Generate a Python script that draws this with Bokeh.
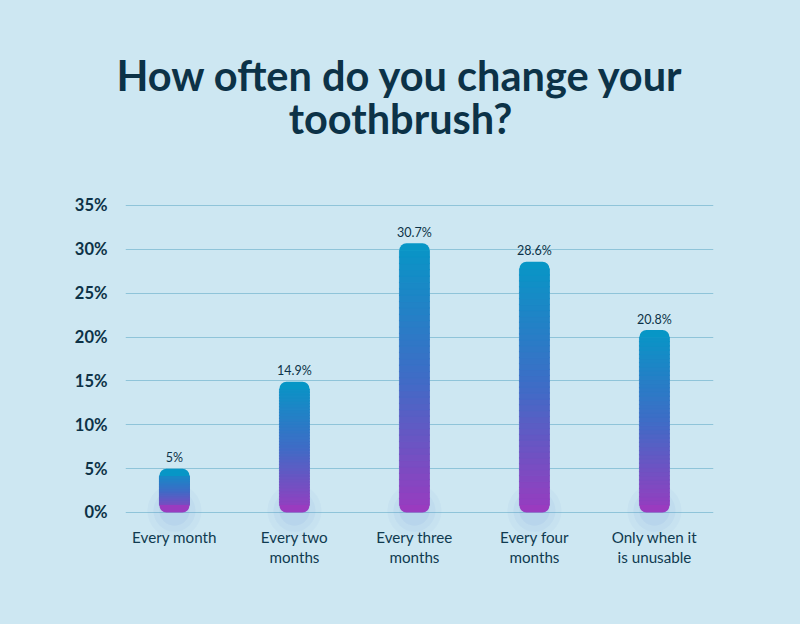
import numpy as np
from bokeh.plotting import figure
from bokeh.layouts import column
from bokeh.models import Range1d, FixedTicker, PrintfTickFormatter, ColumnDataSource
from bokeh.core.properties import value
from bokeh.embed import file_html
from bokeh.resources import INLINE

# ---- data ----
categories = ["Every month", "Every two\nmonths", "Every three\nmonths",
              "Every four\nmonths", "Only when it\nis unusable"]
values = [5.0, 14.9, 30.7, 28.6, 20.8]
value_labels = ["5%", "14.9%", "30.7%", "28.6%", "20.8%"]
y_ticks = [0, 5, 10, 15, 20, 25, 30, 35]
title_lines = ["How often do you change your", "toothbrush?"]

# ---- style ----
BG = "#cde7f2"
GRID = "#8fc4d9"
DARK = "#0c3247"
TEXT = "#0f3a50"
STOPS = [(0.0, (0x9a, 0x3b, 0xbf)), (0.5, (0x3f, 0x6c, 0xc6)), (1.0, (0x07, 0x96, 0xc6))]
BAR_W = 0.25
CAP = 0.85
RAD = 7
N_SLICES = 40
W = 800
TITLE_H = 190
CHART_H = 624 - TITLE_H


def grad_color(f):
    for (f0, c0), (f1, c1) in zip(STOPS[:-1], STOPS[1:]):
        if f <= f1:
            t = (f - f0) / (f1 - f0)
            c = [round(a + (b - a) * t) for a, b in zip(c0, c1)]
            return "#%02x%02x%02x" % tuple(c)
    return "#%02x%02x%02x" % STOPS[-1][1]


xs = list(range(len(categories)))

# ---- title strip ----
t = figure(width=W, height=TITLE_H, output_backend="svg", toolbar_location=None,
           x_range=Range1d(0, 1), y_range=Range1d(0, TITLE_H),
           min_border_left=0, min_border_right=0, min_border_top=0, min_border_bottom=0,
           background_fill_color=None, border_fill_color=BG, outline_line_color=None,
           x_axis_location=None, y_axis_location=None, frame_align=False,
           styles={"background-color": BG})
t.xgrid.visible = False
t.ygrid.visible = False
t.text(x=[0.5, 0.5], y=[TITLE_H - 74, TITLE_H - 117], text=title_lines,
       text_align="center", text_baseline="alphabetic", text_font=value("Lato"),
       text_font_style="bold", text_font_size="41.5px", text_color=DARK)

# ---- chart ----
p = figure(width=W, height=CHART_H, output_backend="svg", toolbar_location=None,
           x_range=Range1d(-0.408, 4.492), y_range=Range1d(-12.769, 35.342),
           min_border_left=125, min_border_right=87, min_border_top=12, min_border_bottom=0,
           background_fill_color=None, border_fill_color=BG, outline_line_color=None,
           x_axis_location=None, frame_align=False, styles={"background-color": BG})

ax = p.yaxis[0]
ax.ticker = FixedTicker(ticks=y_ticks)
ax.formatter = PrintfTickFormatter(format="%d%%")
ax.axis_line_color = None
ax.major_tick_line_color = None
ax.minor_tick_line_color = None
ax.major_tick_out = 0
ax.major_tick_in = 0
ax.major_label_standoff = 18
ax.major_label_text_font = "Lato"
ax.major_label_text_font_style = "bold"
ax.major_label_text_font_size = "16.5px"
ax.major_label_text_color = DARK

p.xgrid.visible = False
p.ygrid.grid_line_color = GRID
p.ygrid.grid_line_width = 1

# shadow glow under bars
for s, a in [(54, 0.05), (42, 0.06), (30, 0.07)]:
    p.scatter(x=xs, y=[0.2] * len(xs), size=s, marker="circle",
              fill_color="#5a82d6", fill_alpha=a, line_color=None)

# gradient slices
sx, sb, st, sc = [], [], [], []
for x, v in zip(xs, values):
    edges = np.linspace(CAP, v - CAP, N_SLICES + 1)
    for b, tp in zip(edges[:-1], edges[1:]):
        f = ((b + tp) / 2) / v
        sx.append(x)
        sb.append(b - 0.03)
        st.append(tp + 0.03)
        sc.append(grad_color(f))
p.vbar(x="x", bottom="b", top="t", width=BAR_W, fill_color="c", line_color="c",
       line_width=0.8, source=ColumnDataSource(dict(x=sx, b=sb, t=st, c=sc)))

p.vbar(x=xs, bottom=[v - CAP for v in values], top=values, width=BAR_W,
       fill_color=grad_color(1.0), line_color=None, border_radius=(RAD, RAD, 0, 0))
p.vbar(x=xs, bottom=[0] * len(xs), top=[CAP] * len(xs), width=BAR_W,
       fill_color=grad_color(0.0), line_color=None, border_radius=(0, 0, RAD, RAD))

# value labels
p.text(x=xs, y=values, text=value_labels, text_align="center", text_baseline="alphabetic",
       y_offset=-11, text_font=value("Lato"), text_font_size="12.5px", text_color=DARK)
# category labels
p.text(x=xs, y=[0] * len(xs), text=categories, text_align="center", text_baseline="top",
       y_offset=16, text_font=value("Lato"), text_font_size="15.2px", text_color=TEXT,
       text_line_height=1.1)

layout = column(t, p, spacing=0, styles={"background-color": BG})
open("out.html", "w").write(file_html(layout, INLINE))
